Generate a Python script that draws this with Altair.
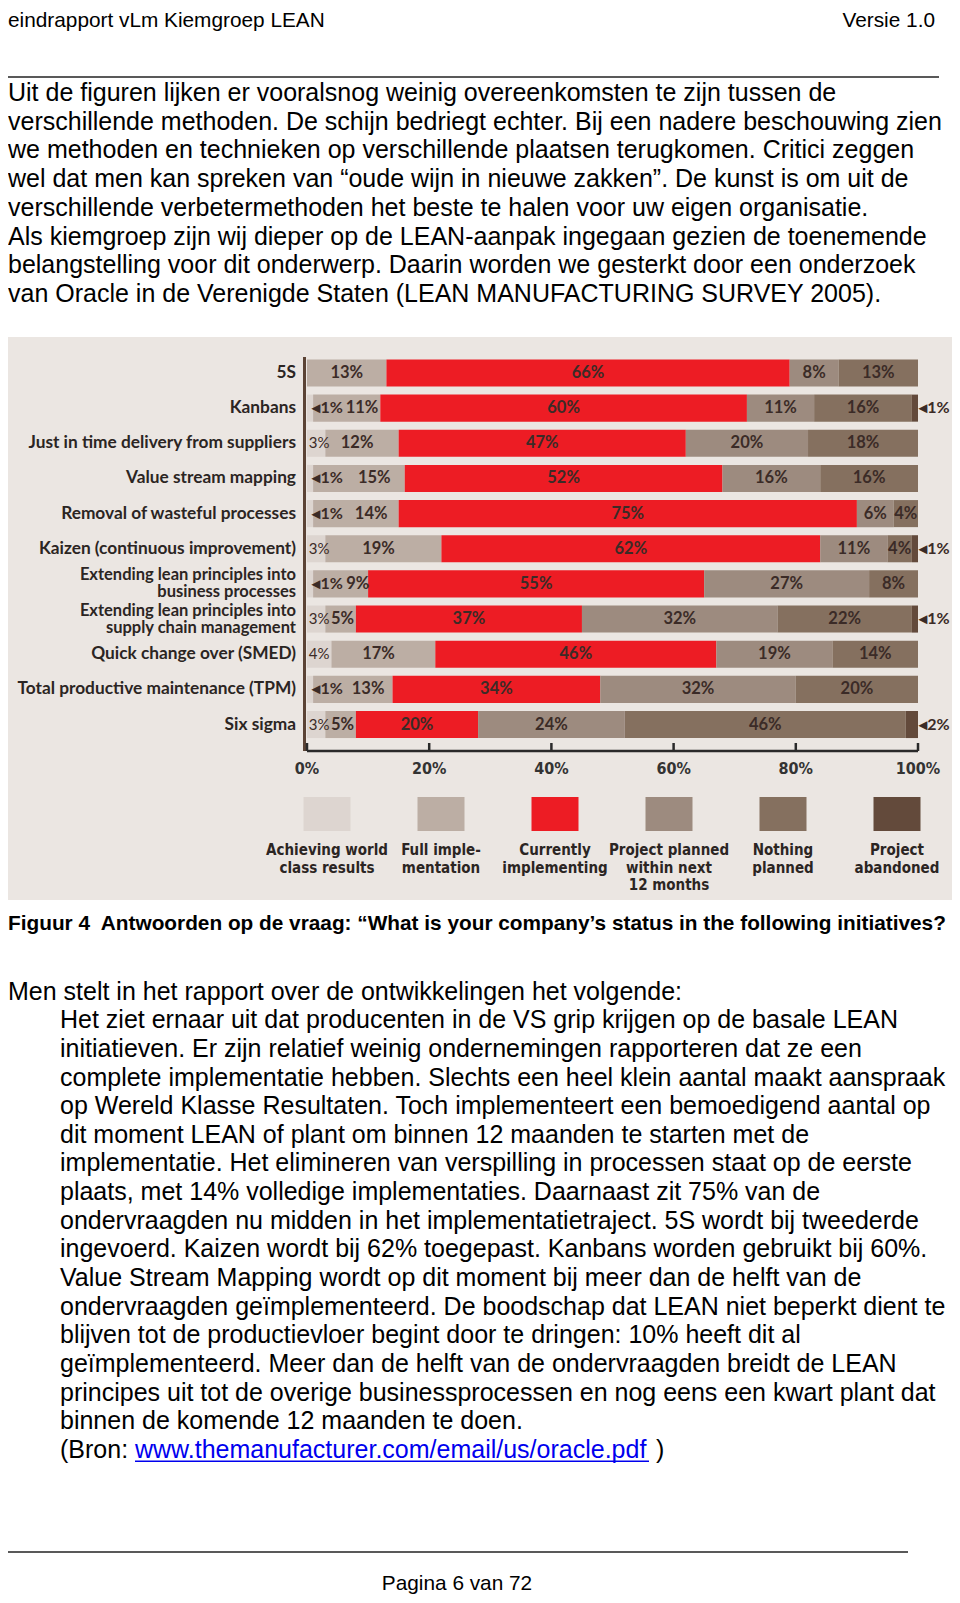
import altair as alt
import pandas as pd

# ---------------- data ----------------
rows = [
    "5S",
    "Kanbans",
    "Just in time delivery from suppliers",
    "Value stream mapping",
    "Removal of wasteful processes",
    "Kaizen (continuous improvement)",
    "Extending lean principles into business processes",
    "Extending lean principles into supply chain management",
    "Quick change over (SMED)",
    "Total productive maintenance (TPM)",
    "Six sigma",
]
row_labels = [
    "5S",
    "Kanbans",
    "Just in time delivery from suppliers",
    "Value stream mapping",
    "Removal of wasteful processes",
    "Kaizen (continuous improvement)",
    "Extending lean principles into\nbusiness processes",
    "Extending lean principles into\nsupply chain management",
    "Quick change over (SMED)",
    "Total productive maintenance (TPM)",
    "Six sigma",
]
statuses = [
    "Achieving world class results",
    "Full implementation",
    "Currently implementing",
    "Project planned within next 12 months",
    "Nothing planned",
    "Project abandoned",
]
legend_labels = [
    "Achieving world\nclass results",
    "Full imple-\nmentation",
    "Currently\nimplementing",
    "Project planned\nwithin next\n12 months",
    "Nothing\nplanned",
    "Project\nabandoned",
]
colors = ["#ddd5d0", "#bcaea4", "#ed1c24", "#9d8b7f", "#85705f", "#634a3b"]

world = [0, 1, 3, 1, 1, 3, 1, 3, 4, 1, 3]
full = [13, 11, 12, 15, 14, 19, 9, 5, 17, 13, 5]
current = [66, 60, 47, 52, 75, 62, 55, 37, 46, 34, 20]
planned = [8, 11, 20, 16, 6, 11, 27, 32, 19, 32, 24]
nothing = [13, 16, 18, 16, 4, 4, 8, 22, 14, 20, 46]
abandoned = [0, 1, 0, 0, 0, 1, 0, 1, 0, 0, 2]

ticks = [0, 20, 40, 60, 80, 100]
tick_labels = ["0%", "20%", "40%", "60%", "80%", "100%"]

header_left = "eindrapport vLm Kiemgroep LEAN"
header_right = "Versie 1.0"
para1 = [
    "Uit de figuren lijken er vooralsnog weinig overeenkomsten te zijn tussen de",
    "verschillende methoden. De schijn bedriegt echter. Bij een nadere beschouwing zien",
    "we methoden en technieken op verschillende plaatsen terugkomen. Critici zeggen",
    "wel dat men kan spreken van \u201coude wijn in nieuwe zakken\u201d. De kunst is om uit de",
    "verschillende verbetermethoden het beste te halen voor uw eigen organisatie.",
    "Als kiemgroep zijn wij dieper op de LEAN-aanpak ingegaan gezien de toenemende",
    "belangstelling voor dit onderwerp. Daarin worden we gesterkt door een onderzoek",
    "van Oracle in de Verenigde Staten (LEAN MANUFACTURING SURVEY 2005).",
]
caption = "Figuur 4\u00a0 Antwoorden op de vraag: \u201cWhat is your company\u2019s status in the following initiatives?"
para2_intro = "Men stelt in het rapport over de ontwikkelingen het volgende:"
para2 = [
    "Het ziet ernaar uit dat producenten in de VS grip krijgen op de basale LEAN",
    "initiatieven. Er zijn relatief weinig ondernemingen rapporteren dat ze een",
    "complete implementatie hebben. Slechts een heel klein aantal maakt aanspraak",
    "op Wereld Klasse Resultaten. Toch implementeert een bemoedigend aantal op",
    "dit moment LEAN of plant om binnen 12 maanden te starten met de",
    "implementatie. Het elimineren van verspilling in processen staat op de eerste",
    "plaats, met 14% volledige implementaties. Daarnaast zit 75% van de",
    "ondervraagden nu midden in het implementatietraject. 5S wordt bij tweederde",
    "ingevoerd. Kaizen wordt bij 62% toegepast. Kanbans worden gebruikt bij 60%.",
    "Value Stream Mapping wordt op dit moment bij meer dan de helft van de",
    "ondervraagden ge\u00efmplementeerd. De boodschap dat LEAN niet beperkt dient te",
    "blijven tot de productievloer begint door te dringen: 10% heeft dit al",
    "ge\u00efmplementeerd. Meer dan de helft van de ondervraagden breidt de LEAN",
    "principes uit tot de overige businessprocessen en nog eens een kwart plant dat",
    "binnen de komende 12 maanden te doen.",
]
bron_prefix = "(Bron: "
bron_link = "www.themanufacturer.com/email/us/oracle.pdf"
bron_suffix = ")"
footer = "Pagina 6 van 72"

# ---------------- tables ----------------
bar_recs = []
lab_center = []
lab_arrow = []
lab_small = []
series = [world, full, current, planned, nothing, abandoned]
for i, r in enumerate(rows):
    vals = [s[i] for s in series]
    cum = 0
    for s, v in zip(statuses, vals):
        if v > 0:
            bar_recs.append({"row": r, "status": s, "start": cum, "end": cum + v})
        cum += v
    w, f, c, p, n, a = vals
    mid = w + f / 2
    if w == 1:
        lab_arrow.append({"row": r, "pos": 0.9, "txt": "\u25c2%d%%" % w})
        fpos = max(mid + 2.5, 8.3)
    elif w >= 2:
        lab_small.append({"row": r, "pos": 0.3, "txt": "%d%%" % w})
        fpos = max(mid - 0.8, 5.8)
    else:
        fpos = mid
    lab_center.append({"row": r, "pos": fpos, "txt": "%d%%" % f})
    base = w + f
    for v in (c, p, n):
        lab_center.append({"row": r, "pos": base + v / 2, "txt": "%d%%" % v})
        base += v
    if a > 0:
        lab_arrow.append({"row": r, "pos": 100.2, "txt": "\u25c2%d%%" % a})

bars_df = pd.DataFrame(bar_recs)
labc_df = pd.DataFrame(lab_center)
laba_df = pd.DataFrame(lab_arrow)
labs_df = pd.DataFrame(lab_small)
cat_df = pd.DataFrame({"row": rows, "label": row_labels})
cat1_df = cat_df[~cat_df.label.str.contains("\n")]
cat2_df = cat_df[cat_df.label.str.contains("\n")]
tick_df = pd.DataFrame({"t": ticks, "lab": tick_labels})
leg_df = pd.DataFrame({"status": statuses, "label": legend_labels})

body_recs = []
for k, line in enumerate(para1):
    body_recs.append({"px": 0, "py": 85 + 28.7 * k, "txt": line})
body_recs.append({"px": 0, "py": 983.7, "txt": para2_intro})
for k, line in enumerate(para2):
    body_recs.append({"px": 52, "py": 983.7 + 28.63 * (k + 1), "txt": line})
bron_y = 983.7 + 28.63 * 16
body_recs.append({"px": 52, "py": bron_y, "txt": bron_prefix})
body_recs.append({"px": 648, "py": bron_y, "txt": bron_suffix})
body_df = pd.DataFrame(body_recs)

link_df = pd.DataFrame({"px": [127], "py": [bron_y], "txt": [bron_link]})
underline_df = pd.DataFrame({"x": [127], "x2": [641], "y": [bron_y + 11.5]})
page_rules_df = pd.DataFrame({"x": [0, 0], "x2": [931, 900], "y": [69, 1544]})
one = pd.DataFrame({"k": [0]})

# ---------------- scales ----------------
xs = alt.Scale(domain=[0, 100], range=[299, 910])
ys = alt.Scale(domain=rows, range=[347.4, 734.1], paddingInner=0.23, paddingOuter=0.115)
cs = alt.Scale(domain=statuses, range=colors)
ls = alt.Scale(type="point", domain=statuses, range=[319, 889], padding=0)

BODY = "Liberation Sans, Arial, sans-serif"
CHART = "Lato, sans-serif"
NARROW = "DejaVu Sans Condensed, Lato, sans-serif"
LAB_COL = "#3b2b27"

panel = alt.Chart(one).mark_rect(color="#ebe6e2").encode(
    x=alt.value(0), x2=alt.value(944), y=alt.value(329), y2=alt.value(892)
)

bars = alt.Chart(bars_df).mark_bar().encode(
    x=alt.X("start:Q", scale=xs, axis=None),
    x2="end:Q",
    y=alt.Y("row:N", scale=ys, axis=None),
    color=alt.Color("status:N", scale=cs, legend=None),
)

labels_c = alt.Chart(labc_df).mark_text(
    font=CHART, fontWeight="bold", fontSize=16.5, color=LAB_COL, align="center", baseline="middle"
).encode(
    x=alt.X("pos:Q", scale=xs, axis=None),
    y=alt.Y("row:N", scale=ys, axis=None),
    text="txt:N",
)
labels_a = alt.Chart(laba_df).mark_text(
    font=CHART, fontWeight="bold", fontSize=16, color=LAB_COL, align="left", baseline="middle"
).encode(
    x=alt.X("pos:Q", scale=xs, axis=None),
    y=alt.Y("row:N", scale=ys, axis=None),
    text="txt:N",
)
labels_s = alt.Chart(labs_df).mark_text(
    font=CHART, fontSize=15, color=LAB_COL, align="left", baseline="middle"
).encode(
    x=alt.X("pos:Q", scale=xs, axis=None),
    y=alt.Y("row:N", scale=ys, axis=None),
    text="txt:N",
)

cats1 = alt.Chart(cat1_df).mark_text(
    font=CHART, fontWeight="bold", fontSize=17.3, color="#2b2523", align="right", baseline="middle",
).encode(
    x=alt.value(288),
    y=alt.Y("row:N", scale=ys, axis=None),
    text="label:N",
)
cats2 = alt.Chart(cat2_df).mark_text(
    font=CHART, fontWeight="bold", fontSize=16.5, color="#2b2523", align="right",
    baseline="middle", lineBreak="\n", lineHeight=17, dy=-8.5,
).encode(
    x=alt.value(288),
    y=alt.Y("row:N", scale=ys, axis=None),
    text="label:N",
)

vaxis = alt.Chart(tick_df[tick_df.t == 0]).mark_rule(color="#5b4335", strokeWidth=3, xOffset=-2.5).encode(
    x=alt.X("t:Q", scale=xs, axis=None), y=alt.value(349), y2=alt.value(743)
)
haxis = alt.Chart(one).mark_rule(color="#2a2a2a", strokeWidth=2.5).encode(
    x=alt.X("a:Q", scale=xs, axis=None), x2="b:Q", y=alt.value(743)
).transform_calculate(a="0", b="100")
tickmarks = alt.Chart(tick_df).mark_rule(color="#2a2a2a", strokeWidth=2.5).encode(
    x=alt.X("t:Q", scale=xs, axis=None), y=alt.value(735), y2=alt.value(743)
)
ticklabs = alt.Chart(tick_df).mark_text(
    font=NARROW, fontWeight="bold", fontSize=16, color="#333333", baseline="middle"
).encode(
    x=alt.X("t:Q", scale=xs, axis=None), y=alt.value(761), text="lab:N"
)

leg_sq = alt.Chart(leg_df).mark_bar(width=47).encode(
    x=alt.X("status:N", scale=ls, axis=None),
    y=alt.value(789), y2=alt.value(823),
    color=alt.Color("status:N", scale=cs, legend=None),
)
leg_txt = alt.Chart(leg_df).mark_text(
    font=NARROW, fontWeight="bold", fontSize=15, color="#2b2523", align="center",
    baseline="alphabetic", lineBreak="\n", lineHeight=17.5,
).encode(
    x=alt.X("status:N", scale=ls, axis=None), y=alt.value(847), text="label:N"
)

body = alt.Chart(body_df).mark_text(
    font=BODY, fontSize=25, color="#000000", align="left", baseline="middle"
).encode(
    x=alt.X("px:Q", scale=None), y=alt.Y("py:Q", scale=None), text="txt:N"
)
link = alt.Chart(link_df).mark_text(
    font=BODY, fontSize=25, color="#0000ee", align="left", baseline="middle"
).encode(
    x=alt.X("px:Q", scale=None), y=alt.Y("py:Q", scale=None), text="txt:N"
)
underline = alt.Chart(underline_df).mark_rule(color="#0000ee", strokeWidth=1.5).encode(
    x=alt.X("x:Q", scale=None), x2="x2:Q", y=alt.Y("y:Q", scale=None)
)
page_rules = alt.Chart(page_rules_df).mark_rule(color="#222222", strokeWidth=1.5).encode(
    x=alt.X("x:Q", scale=None), x2="x2:Q", y=alt.Y("y:Q", scale=None)
)

head_l = alt.Chart(one).mark_text(
    font=BODY, fontSize=20.8, color="#000000", align="left", baseline="top", text=header_left
).encode(x=alt.value(0), y=alt.value(3))
head_r = alt.Chart(one).mark_text(
    font=BODY, fontSize=20.8, color="#000000", align="right", baseline="top", text=header_right
).encode(x=alt.value(927), y=alt.value(3))
cap = alt.Chart(one).mark_text(
    font=BODY, fontSize=20.8, fontWeight="bold", color="#000000", align="left", baseline="middle", text=caption
).encode(x=alt.value(0), y=alt.value(916))
foot = alt.Chart(one).mark_text(
    font=BODY, fontSize=20.8, color="#000000", align="center", baseline="middle", text=footer
).encode(x=alt.value(449), y=alt.value(1576))

chart = alt.layer(
    panel, bars, labels_c, labels_a, labels_s, cats1, cats2, vaxis, haxis, tickmarks, ticklabs,
    leg_sq, leg_txt, body, link, underline, page_rules, head_l, head_r, cap, foot,
).resolve_scale(x="independent", y="independent").properties(
    width=944, height=1587, autosize="none", padding=0, background="#ffffff"
).configure_view(stroke=None)

chart.save("out.html", embed_options={"renderer": "svg", "actions": False})
